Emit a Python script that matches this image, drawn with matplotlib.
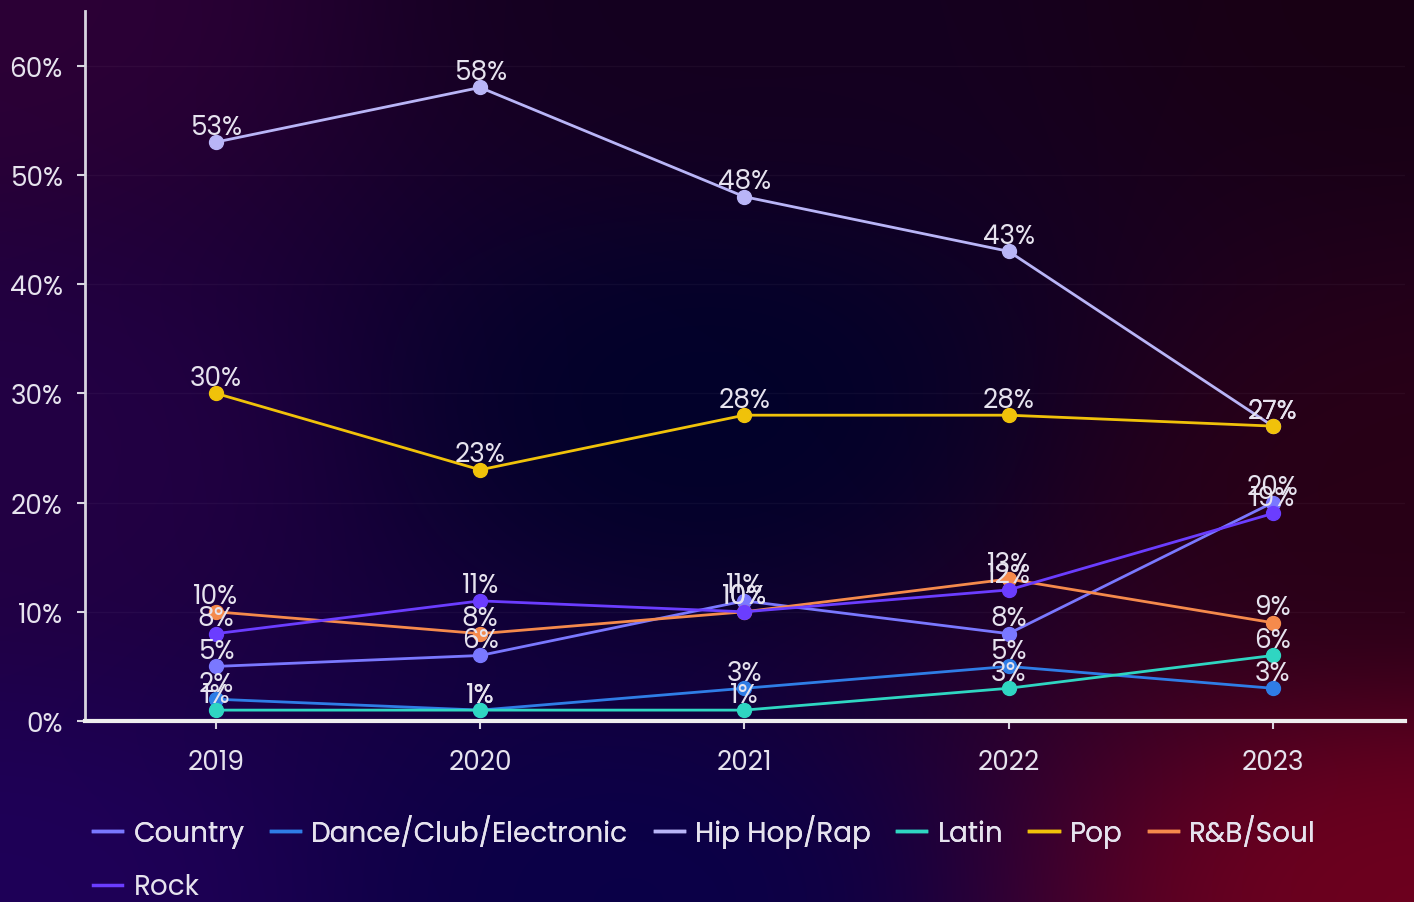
import numpy as np
import matplotlib
matplotlib.use("Agg")
import matplotlib.pyplot as plt
from matplotlib.lines import Line2D

years = ["2019", "2020", "2021", "2022", "2023"]
genres = ["Country", "Dance/Club/Electronic", "Hip Hop/Rap", "Latin", "Pop", "R&B/Soul", "Rock"]
country = [5, 6, 11, 8, 20]
dance = [2, 1, 3, 5, 3]
hiphop = [53, 58, 48, 43, 27]
latin = [1, 1, 1, 3, 6]
pop = [30, 23, 28, 28, 27]
rnb = [10, 8, 10, 13, 9]
rock = [8, 11, 10, 12, 19]
series = [country, dance, hiphop, latin, pop, rnb, rock]
colors = ["#7a78ff", "#2f7de6", "#b9b5f7", "#2fd6c2", "#f0c20a", "#f58a4c", "#6b3dff"]

plt.rcParams['font.family'] = ['Poppins', 'Lato', 'DejaVu Sans']
txt = "#e6e3ee"

fig = plt.figure(figsize=(14.14, 9.03), dpi=100)

# background gradient
h, w = 300, 470
yy, xx = np.mgrid[0:1:h * 1j, 0:1:w * 1j]
anchors = [
    ((0.0, 0.0), "#2c0036"),
    ((1.0, 0.0), "#180014"),
    ((0.0, 1.0), "#1f0058"),
    ((1.0, 1.0), "#6e001e"),
    ((0.5, 0.45), "#01022a"),
    ((0.45, 1.0), "#0a0048"),
    ((1.0, 0.55), "#280016"),
    ((0.0, 0.5), "#230044"),
    ((0.5, 0.0), "#14001f"),
]
num = np.zeros((h, w, 3))
den = np.zeros((h, w))
for (ax_, ay_), col in anchors:
    d2 = (xx - ax_) ** 2 + (yy - ay_) ** 2
    wgt = 1.0 / (d2 + 0.01) ** 1.5
    rgb = np.array(matplotlib.colors.to_rgb(col))
    num += wgt[..., None] * rgb
    den += wgt
bg_img = num / den[..., None]
bg = fig.add_axes([0, 0, 1, 1], zorder=-10)
bg.imshow(bg_img, aspect="auto", extent=[0, 1, 0, 1], origin="upper", interpolation="bilinear")
bg.axis("off")

ax = fig.add_axes([0.060, 0.2004, 0.9336, 0.7863])
ax.patch.set_alpha(0)
x = np.arange(len(years))
for name, vals, c in zip(genres, series, colors):
    ax.plot(x, vals, color=c, lw=2.0, marker="o", ms=10, label=name, zorder=3)
    for xi, v in zip(x, vals):
        ax.annotate(f"{v}%", (xi, v), xytext=(0, 1), textcoords="offset points",
                    ha="center", va="bottom", color=txt, fontsize=19, zorder=5)

ax.set_xlim(-0.496, 4.5)
ax.set_ylim(0, 65)
ax.set_xticks(x)
ax.set_xticklabels(years)
ax.set_yticks(np.arange(0, 61, 10))
ax.set_yticklabels([f"{v}%" for v in range(0, 61, 10)])
ax.tick_params(axis="both", colors="#d8d4e0", labelcolor=txt, labelsize=19, length=6, width=1.5)
ax.tick_params(axis="x", pad=14)
ax.tick_params(axis="y", pad=10)
for s in ["top", "right"]:
    ax.spines[s].set_visible(False)
ax.spines["left"].set_color("#d8d4e0")
ax.spines["left"].set_linewidth(2)
ax.spines["bottom"].set_color("#eeeeee")
ax.spines["bottom"].set_linewidth(3)
ax.grid(axis="y", color="#ffffff", alpha=0.04, lw=1)

handles = [Line2D([0], [0], color=c, lw=2.5) for c in colors]
leg1 = fig.legend(handles[:6], genres[:6], ncol=6, loc="upper left", bbox_to_anchor=(0.058, 0.110),
                  frameon=False, fontsize=20, labelcolor=txt, handlelength=1.05, handletextpad=0.4,
                  columnspacing=0.95, borderaxespad=0)
leg2 = fig.legend(handles[6:], genres[6:], loc="upper left", bbox_to_anchor=(0.058, 0.044),
                  frameon=False, fontsize=20, labelcolor=txt, handlelength=1.05, handletextpad=0.4,
                  borderaxespad=0)
fig.add_artist(leg1)

fig.savefig("out.png", dpi=100)
